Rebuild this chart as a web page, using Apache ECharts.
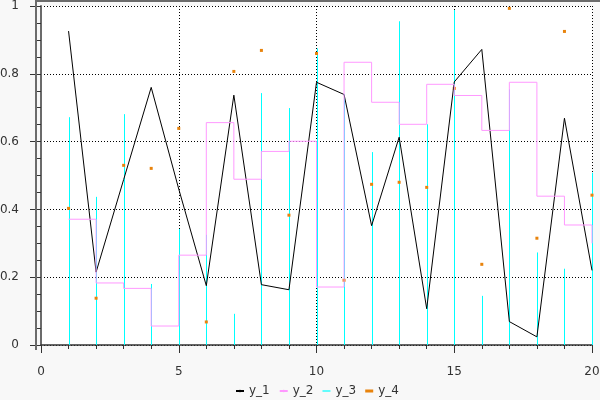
<!DOCTYPE html>
<html>
<head>
<meta charset="utf-8">
<script src="https://cdn.jsdelivr.net/npm/echarts@6/dist/echarts.min.js"></script>
<style>
  html, body { margin: 0; padding: 0; background: #f8f8f8; }
  #chart { width: 600px; height: 400px; }
</style>
</head>
<body>
<div id="chart"></div>
<script>
const xs = [1, 2, 3, 4, 5, 6, 7, 8, 9, 10, 11, 12, 13, 14, 15, 16, 17, 18, 19, 20]
const y1 = [0.926, 0.215, 0.488, 0.760, 0.46, 0.175, 0.737, 0.178, 0.163, 0.775,
            0.739, 0.352, 0.613, 0.107, 0.776, 0.872, 0.069, 0.024, 0.669, 0.220]
const y2 = [0.371, 0.183, 0.167, 0.056, 0.265, 0.656, 0.489, 0.571, 0.601, 0.171,
            0.834, 0.716, 0.651, 0.769, 0.736, 0.633, 0.775, 0.439, 0.354, 0.30]
const y3 = [0.672, 0.437, 0.681, 0.18, 0.342, 0.325, 0.092, 0.743, 0.699, 0.875,
            0.739, 0.569, 0.955, 0.651, 0.988, 0.145, 0.754, 0.273, 0.225, 0.508]
const y4 = [0.403, 0.138, 0.530, 0.521, 0.639, 0.068, 0.807, 0.869, 0.383, 0.860,
            0.191, 0.474, 0.480, 0.465, 0.757, 0.238, 0.993, 0.315, 0.925, 0.442]
const seriesNames = ['y_1', 'y_2', 'y_3', 'y_4']

const pairs = (ys) => xs.map((x, i) => [x, ys[i]])

const chart = echarts.init(document.getElementById('chart'))
const font = 'DejaVu Sans'
const dotted = { type: [1, 2], color: '#000', width: 1 }

// vertical stick from 0 up to the value, snapped to whole pixels
function renderStick(params, api) {
  const top = api.coord([api.value(0), api.value(1)])
  const base = api.coord([api.value(0), 0])
  const x = Math.round(top[0]) + 0.5
  return {
    type: 'line',
    shape: { x1: x, y1: base[1], x2: x, y2: top[1] },
    style: { stroke: '#00ffff', lineWidth: 1 },
  }
}

const option = {
  animation: false,
  backgroundColor: '#f8f8f8',
  textStyle: { fontFamily: font },
  grid: {
    left: 41, right: 8, top: 6, bottom: 55,
    outerBoundsMode: 'none',
    containLabel: false,
    show: true, backgroundColor: '#fff', borderWidth: 0,
  },
  graphic: [
    { type: 'rect', shape: { x: 35, y: 0, width: 2, height: 350 }, style: { fill: '#6b6b6b' }, z: 10 },
    { type: 'rect', shape: { x: 35, y: 0, width: 565, height: 2 }, style: { fill: '#6b6b6b' }, z: 10 },
  ],
  legend: {
    top: 380,
    left: 230,
    itemWidth: 8,
    itemHeight: 3,
    itemGap: 9,
    textStyle: { fontFamily: font, fontSize: 12, color: '#333' },
    data: [
      'y_1',
      'y_2',
      { name: 'y_3', icon: 'path://M0,0H10V1.5H0Z' },
      { name: 'y_4', icon: 'rect' },
    ],
  },
  xAxis: {
    type: 'value',
    min: 0,
    max: 20,
    interval: 5,
    offset: 9,
    axisLine: { show: true, lineStyle: { color: '#333', width: 1.5 } },
    axisTick: { show: true, length: 8, lineStyle: { color: '#333' } },
    minorTick: { show: true, splitNumber: 5, length: 4, lineStyle: { color: '#333' } },
    axisLabel: { margin: 12, fontSize: 12, color: '#333', fontFamily: font },
    splitLine: { show: true, lineStyle: dotted },
  },
  yAxis: {
    type: 'value',
    min: 0,
    max: 1,
    interval: 0.2,
    offset: 5,
    axisLine: { show: true, lineStyle: { color: '#6b6b6b', width: 2 } },
    axisTick: { show: true, length: 11, lineStyle: { color: '#333' } },
    minorTick: { show: true, splitNumber: 4, length: 5, lineStyle: { color: '#333' } },
    axisLabel: { margin: 17, fontSize: 12, color: '#333', fontFamily: font },
    splitLine: { show: true, lineStyle: dotted },
  },
  series: [
    {
      name: seriesNames[0],
      type: 'line',
      data: pairs(y1),
      symbol: 'none',
      itemStyle: { color: '#000' },
      lineStyle: { color: '#000', width: 1 },
    },
    {
      name: seriesNames[1],
      type: 'line',
      step: 'end',
      data: pairs(y2),
      symbol: 'none',
      itemStyle: { color: '#ff99ff' },
      lineStyle: { color: '#ff99ff', width: 1 },
    },
    {
      name: seriesNames[2],
      type: 'custom',
      data: pairs(y3),
      renderItem: renderStick,
      itemStyle: { color: '#00ffff' },
      encode: { x: 0, y: 1 },
    },
    {
      name: seriesNames[3],
      type: 'scatter',
      data: pairs(y4),
      symbol: 'rect',
      symbolSize: 3,
      itemStyle: { color: '#e8830c', opacity: 1 },
    },
  ],
}

chart.setOption(option)
</script>
</body>
</html>
